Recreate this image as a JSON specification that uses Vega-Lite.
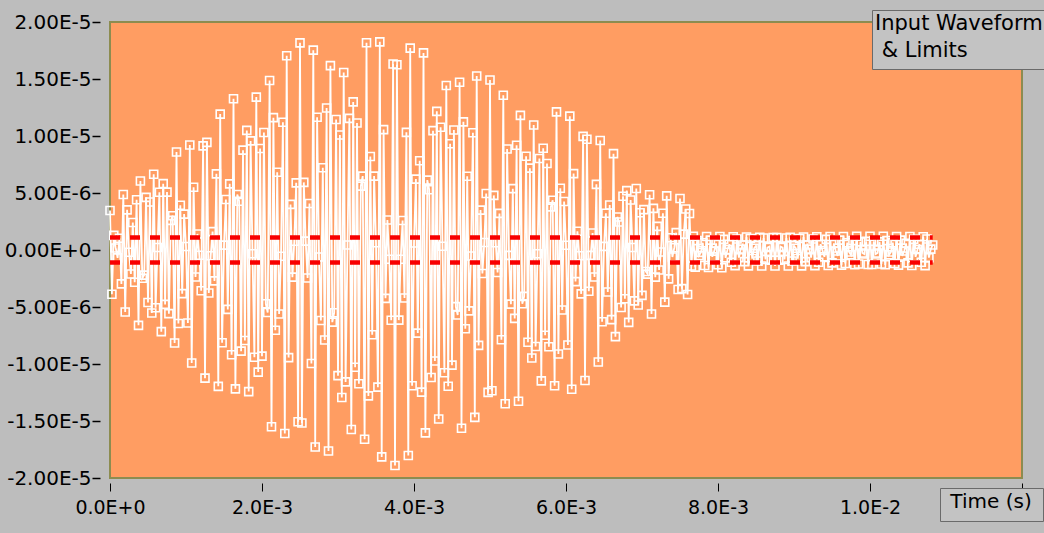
{
  "$schema": "https://vega.github.io/schema/vega-lite/v6.json",
  "width": 912,
  "height": 456,
  "autosize": {"type": "none"},
  "padding": {"left": 110, "top": 22, "right": 22, "bottom": 55},
  "background": "#bdbdbd",
  "view": {"fill": "#ff9d62", "stroke": "#8c8c50", "strokeWidth": 2},
  "config": {
    "view": {"fill": "#ff9d62", "stroke": "#8c8c50", "strokeWidth": 2},
    "font": "DejaVu Sans"
  },
  "datasets": {
    "wave": [
      {"t":0,"v":3.47e-6},{"t":25e-6,"v":-3.88e-6},{"t":50e-6,"v":1.28e-6},{"t":75e-6,"v":0.18e-6},{"t":100e-6,"v":-0.69e-6},{"t":125e-6,"v":1.03e-6},{"t":150e-6,"v":-2.97e-6},{"t":175e-6,"v":4.87e-6},{"t":200e-6,"v":-5.44e-6},{"t":225e-6,"v":3.52e-6},
      {"t":250e-6,"v":-0.2e-6},{"t":275e-6,"v":-2.1e-6},{"t":300e-6,"v":2.41e-6},{"t":325e-6,"v":-2.83e-6},{"t":350e-6,"v":4.41e-6},{"t":375e-6,"v":-6.61e-6},{"t":400e-6,"v":6.05e-6},{"t":425e-6,"v":-2.48e-6},{"t":450e-6,"v":-2.2e-6},{"t":475e-6,"v":4.62e-6},
      {"t":500e-6,"v":-4.6e-6},{"t":525e-6,"v":4.21e-6},{"t":550e-6,"v":-5.53e-6},{"t":575e-6,"v":6.64e-6},{"t":600e-6,"v":-5.07e-6},{"t":625e-6,"v":0.22e-6},{"t":650e-6,"v":5.07e-6},{"t":675e-6,"v":-7.16e-6},{"t":700e-6,"v":5.82e-6},{"t":725e-6,"v":-4.77e-6},
      {"t":750e-6,"v":5.08e-6},{"t":775e-6,"v":-5.58e-6},{"t":800e-6,"v":2.6e-6},{"t":825e-6,"v":3.01e-6},{"t":850e-6,"v":-8.16e-6},{"t":875e-6,"v":8.6e-6},{"t":900e-6,"v":-6.45e-6},{"t":925e-6,"v":3.93e-6},{"t":950e-6,"v":-3.83e-6},{"t":975e-6,"v":3.15e-6},
      {"t":1000e-6,"v":0.31e-6},{"t":1025e-6,"v":-6.4e-6},{"t":1050e-6,"v":9.21e-6},{"t":1075e-6,"v":-9.91e-6},{"t":1100e-6,"v":5.5e-6},{"t":1125e-6,"v":-2.37e-6},{"t":1150e-6,"v":1.41e-6},{"t":1175e-6,"v":-0.46e-6},{"t":1200e-6,"v":-3.58e-6},{"t":1225e-6,"v":9.13e-6},
      {"t":1250e-6,"v":-11.24e-6},{"t":1275e-6,"v":9.44e-6},{"t":1300e-6,"v":-3.77e-6},{"t":1325e-6,"v":-0.51e-6},{"t":1350e-6,"v":1.61e-6},{"t":1375e-6,"v":-2.71e-6},{"t":1400e-6,"v":6.68e-6},{"t":1425e-6,"v":-11.96e-6},{"t":1450e-6,"v":11.92e-6},{"t":1475e-6,"v":-8.14e-6},
      {"t":1500e-6,"v":0.43e-6},{"t":1525e-6,"v":4.43e-6},{"t":1550e-6,"v":-5.21e-6},{"t":1575e-6,"v":5.8e-6},{"t":1600e-6,"v":-9.19e-6},{"t":1625e-6,"v":13.27e-6},{"t":1650e-6,"v":-12.18e-6},{"t":1675e-6,"v":4.87e-6},{"t":1700e-6,"v":4.28e-6},{"t":1725e-6,"v":-8.87e-6},
      {"t":1750e-6,"v":8.76e-6},{"t":1775e-6,"v":-7.94e-6},{"t":1800e-6,"v":10.49e-6},{"t":1825e-6,"v":-12.42e-6},{"t":1850e-6,"v":9.57e-6},{"t":1875e-6,"v":-0.33e-6},{"t":1900e-6,"v":-9.41e-6},{"t":1925e-6,"v":13.41e-6},{"t":1950e-6,"v":-10.71e-6},{"t":1975e-6,"v":8.9e-6},
      {"t":2000e-6,"v":-9.31e-6},{"t":2025e-6,"v":10.31e-6},{"t":2050e-6,"v":-4.72e-6},{"t":2075e-6,"v":-5.48e-6},{"t":2100e-6,"v":14.87e-6},{"t":2125e-6,"v":-15.5e-6},{"t":2150e-6,"v":11.61e-6},{"t":2175e-6,"v":-7.04e-6},{"t":2200e-6,"v":6.82e-6},{"t":2225e-6,"v":-5.61e-6},
      {"t":2250e-6,"v":-0.55e-6},{"t":2275e-6,"v":11.21e-6},{"t":2300e-6,"v":-16.09e-6},{"t":2325e-6,"v":17.04e-6},{"t":2350e-6,"v":-9.44e-6},{"t":2375e-6,"v":4.0e-6},{"t":2400e-6,"v":-2.38e-6},{"t":2425e-6,"v":0.77e-6},{"t":2450e-6,"v":5.89e-6},{"t":2475e-6,"v":-15.06e-6},
      {"t":2500e-6,"v":18.17e-6},{"t":2525e-6,"v":-15.18e-6},{"t":2550e-6,"v":5.93e-6},{"t":2575e-6,"v":0.78e-6},{"t":2600e-6,"v":-2.46e-6},{"t":2625e-6,"v":4.08e-6},{"t":2650e-6,"v":-9.96e-6},{"t":2675e-6,"v":17.53e-6},{"t":2700e-6,"v":-17.28e-6},{"t":2725e-6,"v":11.64e-6},
      {"t":2750e-6,"v":-0.61e-6},{"t":2775e-6,"v":-6.18e-6},{"t":2800e-6,"v":7.21e-6},{"t":2825e-6,"v":-7.89e-6},{"t":2850e-6,"v":12.45e-6},{"t":2875e-6,"v":-17.63e-6},{"t":2900e-6,"v":16.17e-6},{"t":2925e-6,"v":-6.33e-6},{"t":2950e-6,"v":-5.5e-6},{"t":2975e-6,"v":11.45e-6},
      {"t":3000e-6,"v":-11.02e-6},{"t":3025e-6,"v":10.09e-6},{"t":3050e-6,"v":-12.94e-6},{"t":3075e-6,"v":15.57e-6},{"t":3100e-6,"v":-11.57e-6},{"t":3125e-6,"v":0.44e-6},{"t":3150e-6,"v":11.55e-6},{"t":3175e-6,"v":-15.75e-6},{"t":3200e-6,"v":12.99e-6},{"t":3225e-6,"v":-10.29e-6},
      {"t":3250e-6,"v":11.14e-6},{"t":3275e-6,"v":-11.73e-6},{"t":3300e-6,"v":5.6e-6},{"t":3325e-6,"v":6.48e-6},{"t":3350e-6,"v":-16.6e-6},{"t":3375e-6,"v":18.18e-6},{"t":3400e-6,"v":-12.8e-6},{"t":3425e-6,"v":8.2e-6},{"t":3450e-6,"v":-7.44e-6},{"t":3475e-6,"v":6.48e-6},
      {"t":3500e-6,"v":0.64e-6},{"t":3525e-6,"v":-12.03e-6},{"t":3550e-6,"v":18.26e-6},{"t":3575e-6,"v":-18.15e-6},{"t":3600e-6,"v":10.56e-6},{"t":3625e-6,"v":-4.24e-6},{"t":3650e-6,"v":2.63e-6},{"t":3675e-6,"v":-0.81e-6},{"t":3700e-6,"v":-6.16e-6},{"t":3725e-6,"v":16.31e-6},
      {"t":3750e-6,"v":-18.9e-6},{"t":3775e-6,"v":16.25e-6},{"t":3800e-6,"v":-6.15e-6},{"t":3825e-6,"v":-0.81e-6},{"t":3850e-6,"v":2.59e-6},{"t":3875e-6,"v":-4.21e-6},{"t":3900e-6,"v":10.32e-6},{"t":3925e-6,"v":-18.02e-6},{"t":3950e-6,"v":17.71e-6},{"t":3975e-6,"v":-11.91e-6},
      {"t":4000e-6,"v":0.62e-6},{"t":4025e-6,"v":6.22e-6},{"t":4050e-6,"v":-7.29e-6},{"t":4075e-6,"v":7.83e-6},{"t":4100e-6,"v":-12.47e-6},{"t":4125e-6,"v":17.29e-6},{"t":4150e-6,"v":-16.04e-6},{"t":4175e-6,"v":6.13e-6},{"t":4200e-6,"v":5.29e-6},{"t":4225e-6,"v":-11.19e-6},
      {"t":4250e-6,"v":10.47e-6},{"t":4275e-6,"v":-9.74e-6},{"t":4300e-6,"v":12.16e-6},{"t":4325e-6,"v":-14.82e-6},{"t":4350e-6,"v":10.77e-6},{"t":4375e-6,"v":0.33e-6},{"t":4400e-6,"v":-10.77e-6},{"t":4425e-6,"v":14.43e-6},{"t":4450e-6,"v":-11.95e-6},{"t":4475e-6,"v":9.32e-6},
      {"t":4500e-6,"v":-10.1e-6},{"t":4525e-6,"v":10.53e-6},{"t":4550e-6,"v":-4.97e-6},{"t":4575e-6,"v":-5.7e-6},{"t":4600e-6,"v":14.71e-6},{"t":4625e-6,"v":-15.64e-6},{"t":4650e-6,"v":11.24e-6},{"t":4675e-6,"v":-6.91e-6},{"t":4700e-6,"v":6.47e-6},{"t":4725e-6,"v":-5.34e-6},
      {"t":4750e-6,"v":-0.52e-6},{"t":4775e-6,"v":10.29e-6},{"t":4800e-6,"v":-14.68e-6},{"t":4825e-6,"v":15.26e-6},{"t":4850e-6,"v":-8.37e-6},{"t":4875e-6,"v":3.5e-6},{"t":4900e-6,"v":-2.06e-6},{"t":4925e-6,"v":0.66e-6},{"t":4950e-6,"v":4.95e-6},{"t":4975e-6,"v":-12.49e-6},
      {"t":5000e-6,"v":14.91e-6},{"t":5025e-6,"v":-12.35e-6},{"t":5050e-6,"v":4.79e-6},{"t":5075e-6,"v":0.63e-6},{"t":5100e-6,"v":-1.97e-6},{"t":5125e-6,"v":3.21e-6},{"t":5150e-6,"v":-7.87e-6},{"t":5175e-6,"v":13.57e-6},{"t":5200e-6,"v":-13.49e-6},{"t":5225e-6,"v":8.86e-6},
      {"t":5250e-6,"v":-0.47e-6},{"t":5275e-6,"v":-4.75e-6},{"t":5300e-6,"v":5.38e-6},{"t":5325e-6,"v":-6.0e-6},{"t":5350e-6,"v":9.19e-6},{"t":5375e-6,"v":-13.27e-6},{"t":5400e-6,"v":11.81e-6},{"t":5425e-6,"v":-4.72e-6},{"t":5450e-6,"v":-4.07e-6},{"t":5475e-6,"v":8.23e-6},
      {"t":5500e-6,"v":-8.09e-6},{"t":5525e-6,"v":7.18e-6},{"t":5550e-6,"v":-9.47e-6},{"t":5575e-6,"v":10.97e-6},{"t":5600e-6,"v":-8.46e-6},{"t":5625e-6,"v":-0.33e-6},{"t":5650e-6,"v":8.02e-6},{"t":5675e-6,"v":-11.48e-6},{"t":5700e-6,"v":8.93e-6},{"t":5725e-6,"v":-7.48e-6},
      {"t":5750e-6,"v":7.59e-6},{"t":5775e-6,"v":-8.49e-6},{"t":5800e-6,"v":3.78e-6},{"t":5825e-6,"v":4.36e-6},{"t":5850e-6,"v":-11.91e-6},{"t":5875e-6,"v":12.12e-6},{"t":5900e-6,"v":-9.12e-6},{"t":5925e-6,"v":5.42e-6},{"t":5950e-6,"v":-5.26e-6},{"t":5975e-6,"v":4.25e-6},
      {"t":6000e-6,"v":0.42e-6},{"t":6025e-6,"v":-8.33e-6},{"t":6050e-6,"v":11.74e-6},{"t":6075e-6,"v":-12.22e-6},{"t":6100e-6,"v":6.7e-6},{"t":6125e-6,"v":-2.77e-6},{"t":6150e-6,"v":1.64e-6},{"t":6175e-6,"v":-0.51e-6},{"t":6200e-6,"v":-3.85e-6},{"t":6225e-6,"v":9.97e-6},
      {"t":6250e-6,"v":-11.45e-6},{"t":6275e-6,"v":9.72e-6},{"t":6300e-6,"v":-3.62e-6},{"t":6325e-6,"v":-0.47e-6},{"t":6350e-6,"v":1.49e-6},{"t":6375e-6,"v":-2.37e-6},{"t":6400e-6,"v":5.76e-6},{"t":6425e-6,"v":-9.82e-6},{"t":6450e-6,"v":9.6e-6},{"t":6475e-6,"v":-6.3e-6},
      {"t":6500e-6,"v":0.32e-6},{"t":6525e-6,"v":3.22e-6},{"t":6550e-6,"v":-3.69e-6},{"t":6575e-6,"v":3.95e-6},{"t":6600e-6,"v":-6.11e-6},{"t":6625e-6,"v":8.45e-6},{"t":6650e-6,"v":-7.6e-6},{"t":6675e-6,"v":2.9e-6},{"t":6700e-6,"v":2.46e-6},{"t":6725e-6,"v":-5.04e-6},
      {"t":6750e-6,"v":4.72e-6},{"t":6775e-6,"v":-4.27e-6},{"t":6800e-6,"v":5.21e-6},{"t":6825e-6,"v":-6.35e-6},{"t":6850e-6,"v":4.39e-6},{"t":6875e-6,"v":0.22e-6},{"t":6900e-6,"v":-4.46e-6},{"t":6925e-6,"v":5.39e-6},{"t":6950e-6,"v":-4.83e-6},{"t":6975e-6,"v":3.27e-6},
      {"t":7000e-6,"v":-3.98e-6},{"t":7025e-6,"v":3.54e-6},{"t":7050e-6,"v":-1.89e-6},{"t":7075e-6,"v":-2.12e-6},{"t":7100e-6,"v":4.85e-6},{"t":7125e-6,"v":-5.62e-6},{"t":7150e-6,"v":3.65e-6},{"t":7175e-6,"v":-2.38e-6},{"t":7200e-6,"v":2.07e-6},{"t":7225e-6,"v":-1.75e-6},
      {"t":7250e-6,"v":-0.17e-6},{"t":7275e-6,"v":3.22e-6},{"t":7300e-6,"v":-4.57e-6},{"t":7325e-6,"v":4.75e-6},{"t":7350e-6,"v":-2.53e-6},{"t":7375e-6,"v":1.08e-6},{"t":7400e-6,"v":-0.61e-6},{"t":7425e-6,"v":0.2e-6},{"t":7450e-6,"v":1.52e-6},{"t":7475e-6,"v":-3.47e-6},
      {"t":7500e-6,"v":4.52e-6},{"t":7525e-6,"v":-3.39e-6},{"t":7550e-6,"v":1.39e-6},{"t":7575e-6,"v":3.6e-6},{"t":7600e-6,"v":-3.9e-6},{"t":7625e-6,"v":3.2e-6},
      {"t":7650e-6,"v":-1.41e-6},{"t":7675e-6,"v":1.2e-6},{"t":7700e-6,"v":-1.5e-6},{"t":7725e-6,"v":0.82e-6},
      {"t":7750e-6,"v":-0.49e-6},{"t":7775e-6,"v":-0.21e-6},{"t":7800e-6,"v":0.64e-6},{"t":7825e-6,"v":-1.36e-6},{"t":7850e-6,"v":1.19e-6},{"t":7875e-6,"v":-1.53e-6},{"t":7900e-6,"v":0.87e-6},{"t":7925e-6,"v":-0.6e-6},{"t":7950e-6,"v":-0.1e-6},{"t":7975e-6,"v":0.58e-6},
      {"t":8000e-6,"v":-1.3e-6},{"t":8025e-6,"v":1.18e-6},{"t":8050e-6,"v":-1.56e-6},{"t":8075e-6,"v":0.93e-6},{"t":8100e-6,"v":-0.69e-6},{"t":8125e-6,"v":0.05e-6},{"t":8150e-6,"v":0.51e-6},{"t":8175e-6,"v":-1.08e-6},{"t":8200e-6,"v":1.16e-6},{"t":8225e-6,"v":-1.37e-6},
      {"t":8250e-6,"v":0.97e-6},{"t":8275e-6,"v":-0.67e-6},{"t":8300e-6,"v":0.08e-6},{"t":8325e-6,"v":0.44e-6},{"t":8350e-6,"v":-1.02e-6},{"t":8375e-6,"v":1.14e-6},{"t":8400e-6,"v":-1.39e-6},{"t":8425e-6,"v":1.01e-6},{"t":8450e-6,"v":-0.75e-6},{"t":8475e-6,"v":0.15e-6},
      {"t":8500e-6,"v":0.37e-6},{"t":8525e-6,"v":-0.96e-6},{"t":8550e-6,"v":1.12e-6},{"t":8575e-6,"v":-1.4e-6},{"t":8600e-6,"v":1.05e-6},{"t":8625e-6,"v":-0.82e-6},{"t":8650e-6,"v":0.22e-6},{"t":8675e-6,"v":0.3e-6},{"t":8700e-6,"v":-0.89e-6},{"t":8725e-6,"v":1.09e-6},
      {"t":8750e-6,"v":-1.4e-6},{"t":8775e-6,"v":1.09e-6},{"t":8800e-6,"v":-0.89e-6},{"t":8825e-6,"v":0.3e-6},{"t":8850e-6,"v":0.22e-6},{"t":8875e-6,"v":-0.82e-6},{"t":8900e-6,"v":1.05e-6},{"t":8925e-6,"v":-1.4e-6},{"t":8950e-6,"v":1.12e-6},{"t":8975e-6,"v":-0.96e-6},
      {"t":9000e-6,"v":0.37e-6},{"t":9025e-6,"v":0.15e-6},{"t":9050e-6,"v":-0.75e-6},{"t":9075e-6,"v":1.01e-6},{"t":9100e-6,"v":-1.39e-6},{"t":9125e-6,"v":1.14e-6},{"t":9150e-6,"v":-1.02e-6},{"t":9175e-6,"v":0.44e-6},{"t":9200e-6,"v":0.08e-6},{"t":9225e-6,"v":-0.67e-6},
      {"t":9250e-6,"v":0.97e-6},{"t":9275e-6,"v":-1.37e-6},{"t":9300e-6,"v":1.16e-6},{"t":9325e-6,"v":-1.08e-6},{"t":9350e-6,"v":0.51e-6},{"t":9375e-6,"v":-0.05e-6},{"t":9400e-6,"v":-0.6e-6},{"t":9425e-6,"v":0.93e-6},{"t":9450e-6,"v":-1.36e-6},{"t":9475e-6,"v":1.18e-6},
      {"t":9500e-6,"v":-1.13e-6},{"t":9525e-6,"v":0.58e-6},{"t":9550e-6,"v":-0.09e-6},{"t":9575e-6,"v":-0.52e-6},{"t":9600e-6,"v":0.87e-6},{"t":9625e-6,"v":-1.33e-6},{"t":9650e-6,"v":1.19e-6},{"t":9675e-6,"v":-1.18e-6},{"t":9700e-6,"v":0.64e-6},{"t":9725e-6,"v":-0.18e-6},
      {"t":9750e-6,"v":-0.43e-6},{"t":9775e-6,"v":0.82e-6},{"t":9800e-6,"v":-1.3e-6},{"t":9825e-6,"v":1.2e-6},{"t":9850e-6,"v":-1.23e-6},{"t":9875e-6,"v":0.71e-6},{"t":9900e-6,"v":-0.26e-6},{"t":9925e-6,"v":-0.35e-6},{"t":9950e-6,"v":0.76e-6},{"t":9975e-6,"v":-1.27e-6},
      {"t":10000e-6,"v":1.2e-6},{"t":10025e-6,"v":-1.27e-6},{"t":10050e-6,"v":0.76e-6},{"t":10075e-6,"v":-0.35e-6},{"t":10100e-6,"v":-0.26e-6},{"t":10125e-6,"v":0.71e-6},{"t":10150e-6,"v":-1.23e-6},{"t":10175e-6,"v":1.2e-6},{"t":10200e-6,"v":-1.3e-6},{"t":10225e-6,"v":0.82e-6},
      {"t":10250e-6,"v":-0.43e-6},{"t":10275e-6,"v":-0.18e-6},{"t":10300e-6,"v":0.64e-6},{"t":10325e-6,"v":-1.18e-6},{"t":10350e-6,"v":1.19e-6},{"t":10375e-6,"v":-1.33e-6},{"t":10400e-6,"v":0.87e-6},{"t":10425e-6,"v":-0.52e-6},{"t":10450e-6,"v":-0.09e-6},{"t":10475e-6,"v":0.58e-6},
      {"t":10500e-6,"v":-1.13e-6},{"t":10525e-6,"v":1.18e-6},{"t":10550e-6,"v":-1.36e-6},{"t":10575e-6,"v":0.93e-6},{"t":10600e-6,"v":-0.6e-6},{"t":10625e-6,"v":0.05e-6},{"t":10650e-6,"v":0.51e-6},{"t":10675e-6,"v":-1.08e-6},{"t":10700e-6,"v":1.16e-6},{"t":10725e-6,"v":-1.37e-6},
      {"t":10750e-6,"v":0.97e-6},{"t":10775e-6,"v":-0.67e-6},{"t":10800e-6,"v":0.08e-6},{"t":10825e-6,"v":0.44e-6}
    ],
    "limits": [
      {"start": 0, "end": 0.010825, "limit": 1.1e-6},
      {"start": 0, "end": 0.010825, "limit": -1.1e-6}
    ]
  },
  "layer": [
    {
      "data": {"name": "wave"},
      "mark": {"type": "line", "color": "white", "strokeWidth": 1.8},
      "encoding": {
        "x": {
          "field": "t", "type": "quantitative",
          "scale": {"domain": [0, 0.012], "nice": false, "zero": false},
          "axis": {
            "values": [0, 0.002, 0.004, 0.006, 0.008, 0.01, 0.012],
            "labelExpr": "upper(format(datum.value, '.1e'))",
            "title": null, "domain": false, "grid": false,
            "ticks": true, "tickColor": "black", "tickSize": 8, "tickWidth": 1,
            "offset": 5, "labelPadding": 7,
            "labelFont": "DejaVu Sans", "labelFontSize": 19, "labelColor": "black",
            "labelFlush": false, "labelOverlap": false
          }
        },
        "y": {
          "field": "v", "type": "quantitative",
          "scale": {"domain": [-2e-5, 2e-5], "nice": false, "zero": false},
          "axis": {
            "values": [-2e-5, -1.5e-5, -1e-5, -5e-6, 0, 5e-6, 1e-5, 1.5e-5, 2e-5],
            "labelExpr": "replace(upper(format(datum.value, '.2e')), '\u2212', '-')",
            "title": null, "domain": false, "grid": false,
            "ticks": true, "tickColor": "black", "tickSize": 8, "tickWidth": 1.5,
            "offset": 10, "labelPadding": 1,
            "labelFont": "DejaVu Sans", "labelFontSize": 20, "labelColor": "black",
            "labelFlush": false, "labelOverlap": false
          }
        }
      }
    },
    {
      "data": {"name": "wave"},
      "mark": {"type": "point", "shape": "square", "filled": false, "color": "white", "size": 64, "strokeWidth": 1.6, "opacity": 1},
      "encoding": {
        "x": {"field": "t", "type": "quantitative"},
        "y": {"field": "v", "type": "quantitative"}
      }
    },
    {
      "data": {"name": "limits"},
      "mark": {"type": "rule", "color": "#f80000", "strokeWidth": 4.5, "strokeDash": [10, 10]},
      "encoding": {
        "x": {"field": "start", "type": "quantitative"},
        "x2": {"field": "end"},
        "y": {"field": "limit", "type": "quantitative"}
      }
    },
    {
      "data": {"values": [{"plot": "Input Waveform & Limits"}]},
      "mark": {"type": "point", "opacity": 0},
      "encoding": {
        "shape": {
          "field": "plot", "type": "nominal",
          "legend": {
            "title": ["Input Waveform", "\u200b & Limits"],
            "orient": "none", "legendX": 762, "legendY": -12,
            "fillColor": "#c3c3c3", "strokeColor": "#6a6a6a", "padding": 3, "cornerRadius": 0,
            "titleFont": "DejaVu Sans", "titleFontSize": 21, "titleFontWeight": "normal",
            "titleColor": "black", "titleLineHeight": 27, "titlePadding": 0, "titleLimit": 500,
            "symbolSize": 0, "symbolOpacity": 0, "symbolStrokeWidth": 0,
            "labelFontSize": 0, "labelOpacity": 0, "labelExpr": "''", "rowPadding": 0
          }
        }
      }
    },
    {
      "data": {"values": [{"axisname": "Time (s)"}]},
      "mark": {"type": "point", "opacity": 0},
      "encoding": {
        "color": {
          "field": "axisname", "type": "nominal",
          "legend": {
            "title": "\u200b Time (s) \u200b",
            "orient": "none", "legendX": 830, "legendY": 466,
            "fillColor": "#c3c3c3", "strokeColor": "#6a6a6a", "padding": 4, "cornerRadius": 0,
            "titleFont": "DejaVu Sans", "titleFontSize": 20, "titleFontWeight": "normal",
            "titleColor": "black", "titleLineHeight": 20, "titlePadding": 0, "titleLimit": 500,
            "symbolSize": 0, "symbolOpacity": 0, "symbolStrokeWidth": 0,
            "labelFontSize": 0, "labelOpacity": 0, "labelExpr": "''", "rowPadding": 0
          }
        }
      }
    }
  ]
}
